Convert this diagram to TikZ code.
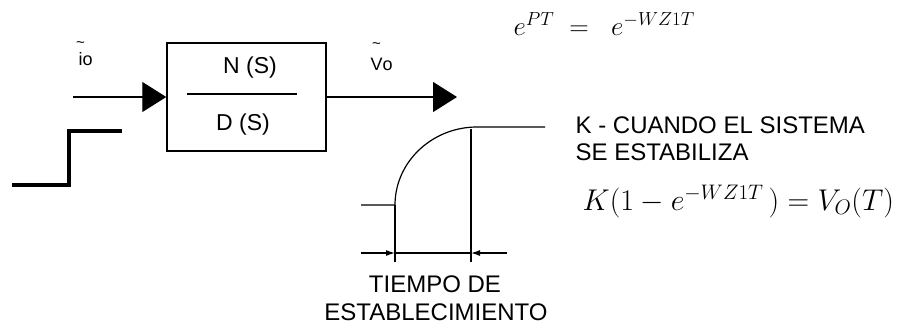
\RequirePackage{fix-cm}
\documentclass[tikz,border=0pt]{standalone}
\usepackage{fontspec}
\setmainfont{Liberation Sans}
\usetikzlibrary{arrows.meta}
\newcommand\hitilde[2]{\leavevmode\hbox{\ooalign{#1\cr\hidewidth\raisebox{#2}{\fontsize{15}{15}\selectfont\textasciitilde}\hidewidth\cr}}}
\begin{document}
\begin{tikzpicture}[x=1pt,y=-1pt,line width=1.2pt,
  txt/.style={font=\fontsize{24}{28}\selectfont,inner sep=0pt},
  frac/.style={font=\fontsize{23}{27}\selectfont,inner sep=0pt},
  lbl/.style={font=\fontsize{18}{20}\selectfont,inner sep=0pt},
  bigarrow/.style={-{Triangle[length=24pt,width=30pt]}},
  dimarrow/.style={-{Latex[length=9pt,width=6pt]}},
  sysbox/.style={draw,line width=1.5pt,minimum width=159pt,minimum height=108pt,inner sep=0pt}]
\useasboundingbox (0,0) rectangle (900,327);
% block
\node[sysbox] (sys) at (246.5,97) {};
\draw (187,94) -- (297,94);
\node[frac,anchor=base] (num) at (250,73) {N (S)};
\node[frac,anchor=base] (den) at (243,130) {D (S)};
\coordinate (in) at (73,97);
\coordinate (out) at (457,97);
\draw[bigarrow] (in) -- (sys.west);
\draw[bigarrow] (sys.east) -- (out);
\node[lbl,anchor=base west] (io) at (78,65) {\hitilde{i}{0.95em}o};
\node[lbl,anchor=base west] (vo) at (370,70) {\hitilde{V}{1.2em}o};
% step input
\draw[line width=3.5pt] (12,185) -- (69,185) -- (69,131) -- (122,131);
% response
\draw (361,205) -- (395,205) .. controls (395,162) and (432,127) .. (477,127) -- (545,127);
\coordinate (ta) at (395,253);
\coordinate (tb) at (471,253);
\draw (395,205) -- (395,262);
\draw (471,129) -- (471,262);
\coordinate (la) at (361,253);
\coordinate (rb) at (507,253);
\draw[dimarrow] (la) -- (ta);
\draw (ta) -- (tb);
\draw[dimarrow] (rb) -- (tb);
\node[txt,anchor=base] (t1) at (435,292) {TIEMPO DE};
\node[txt,anchor=base] (t2) at (436,320) {ESTABLECIMIENTO};
\node[txt,anchor=base west] (k1) at (575,133) {K - CUANDO EL SISTEMA};
\node[txt,anchor=base west] (k2) at (575,160) {SE ESTABILIZA};
% equations
\node[anchor=base west,inner sep=0pt,font=\fontsize{27}{30}\selectfont] (eq1) at (513,35) {$e^{PT}\ =\ \ e^{-WZ1T}$};
\node[anchor=base west,inner sep=0pt,font=\fontsize{30}{34}\selectfont] (eq2) at (582,210) {$K(1-e^{-WZ1T}\,)=V_O(T)$};
\end{tikzpicture}
\end{document}
